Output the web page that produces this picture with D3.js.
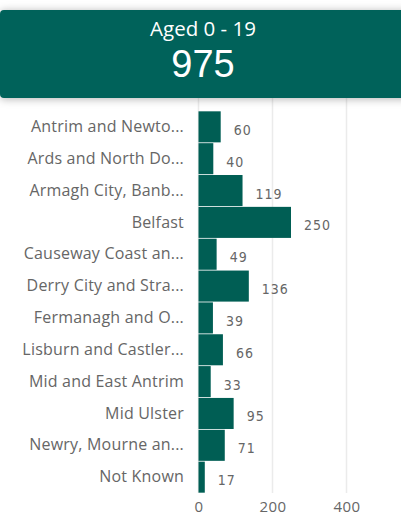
<!DOCTYPE html>
<html>
<head>
<meta charset="utf-8">
<script src="https://cdn.jsdelivr.net/npm/d3@7"></script>
<style>
  body { margin: 0; background: #fff; }
  svg { display: block; }
</style>
</head>
<body>
<script>
const title = "Aged 0 - 19";
const total = "975";
const councils = [
  "Antrim and Newto...", "Ards and North Do...", "Armagh City, Banb...", "Belfast",
  "Causeway Coast an...", "Derry City and Stra...", "Fermanagh and O...", "Lisburn and Castler...",
  "Mid and East Antrim", "Mid Ulster", "Newry, Mourne an...", "Not Known"
];
const counts = [60, 40, 119, 250, 49, 136, 39, 66, 33, 95, 71, 17];
const xTicks = [0, 200, 400];

const width = 401, height = 515;
const barColor = "#005e54";
const greyText = "#666";

const svg = d3.select("body").append("svg")
  .attr("width", width)
  .attr("height", height);

const rows = councils.map((c, i) => ({ name: c, value: counts[i] }));

const x = d3.scaleLinear().domain([0, 500]).range([198.5, 383.5]);
const y = d3.scaleBand().domain(councils).range([111, 493]).paddingInner(0.025).paddingOuter(0.01);

// gridlines
svg.append("g").selectAll("line")
  .data(xTicks)
  .enter().append("line")
  .attr("x1", d => x(d)).attr("x2", d => x(d))
  .attr("y1", 98).attr("y2", 493)
  .attr("stroke", "#ebebeb")
  .attr("stroke-width", 1.5);

// bars
svg.append("g").selectAll("rect")
  .data(rows)
  .enter().append("rect")
  .attr("x", x(0))
  .attr("y", d => y(d.name))
  .attr("width", d => x(d.value) - x(0))
  .attr("height", y.bandwidth())
  .attr("fill", barColor);

// value labels
svg.append("g").selectAll("text")
  .data(rows)
  .enter().append("text")
  .attr("x", d => x(d.value) + 13)
  .attr("y", d => y(d.name) + y.bandwidth() / 2 + 4)
  .attr("dominant-baseline", "middle")
  .style("font-family", "'DejaVu Sans Condensed', 'DejaVu Sans', sans-serif")
  .style("font-size", "14px")
  .style("letter-spacing", "1px")
  .attr("fill", greyText)
  .text(d => d.value);

// category axis
const yAxis = d3.axisLeft(y).tickSize(0).tickPadding(0);
const yg = svg.append("g")
  .attr("transform", "translate(184,0)")
  .call(yAxis);
yg.select(".domain").remove();
yg.selectAll("text")
  .style("font-family", "'Open Sans', 'Noto Sans', sans-serif")
  .style("font-size", "16px")
  .style("letter-spacing", "0.2px")
  .attr("fill", greyText);

// value axis
const xAxis = d3.axisBottom(x).tickValues(xTicks).tickSize(0).tickPadding(0);
const xg = svg.append("g")
  .attr("transform", "translate(0,501)")
  .call(xAxis);
xg.select(".domain").remove();
xg.selectAll("text")
  .attr("dy", "0.71em")
  .style("font-family", "'Open Sans', 'Noto Sans', sans-serif")
  .style("font-size", "15px")
  .style("letter-spacing", "0.5px")
  .attr("fill", greyText);

// header card
const defs = svg.append("defs");
const shadow = defs.append("filter").attr("id", "shadow")
  .attr("x", "-10%").attr("y", "-30%").attr("width", "120%").attr("height", "160%");
shadow.append("feDropShadow")
  .attr("dx", 0).attr("dy", 1)
  .attr("stdDeviation", 4)
  .attr("flood-color", "#000")
  .attr("flood-opacity", 0.3);

svg.append("rect")
  .attr("x", 0).attr("y", 10)
  .attr("width", 410).attr("height", 88)
  .attr("rx", 4)
  .attr("fill", "#00625a")
  .attr("filter", "url(#shadow)");

svg.append("text")
  .attr("x", 203).attr("y", 31)
  .attr("text-anchor", "middle")
  .attr("dominant-baseline", "middle")
  .style("font-family", "'Open Sans', 'Noto Sans', sans-serif")
  .style("font-size", "20.5px")
  .attr("fill", "#fff")
  .text(title);

svg.append("text")
  .attr("x", 203).attr("y", 67)
  .attr("text-anchor", "middle")
  .attr("dominant-baseline", "middle")
  .style("font-family", "'Liberation Sans', Arial, sans-serif")
  .style("font-size", "38px")
  .attr("fill", "#fff")
  .text(total);
</script>
</body>
</html>
